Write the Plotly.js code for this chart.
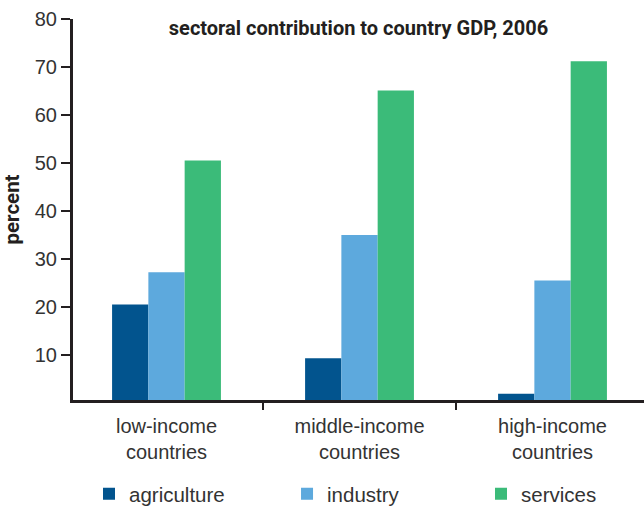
<!DOCTYPE html>
<html>
<head>
<meta charset="utf-8">
<script src="https://cdn.plot.ly/plotly-3.0.1.min.js"></script>
<style>html,body{margin:0;padding:0;background:#fff;}#chart{width:644px;height:506px;}</style>
</head>
<body>
<div id="chart"></div>
<script>
var categories = ["low-income<br>countries", "middle-income<br>countries", "high-income<br>countries"];
var seriesNames = ["agriculture", "industry", "services"];
var agriculture = [20.5, 9.3, 1.9];
var industry = [27.2, 35.0, 25.5];
var services = [50.5, 65.1, 71.2];
var yTicks = [10, 20, 30, 40, 50, 60, 70, 80];
var boundaryTicks = [0.5, 1.5];
var titleText = "sectoral contribution to country GDP, 2006";
var yTitle = "percent";

var colors = ["#02548E", "#5DA9DD", "#3BBB79"];
var values = [agriculture, industry, services];
var legendIds = ["legend", "legend2", "legend3"];
var traces = seriesNames.map(function (n, i) {
  return {
    type: "bar", name: n, x: categories, y: values[i],
    marker: {color: colors[i], line: {width: 0}},
    legend: legendIds[i],
    hoverinfo: "skip"
  };
});
// invisible trace carrying the boundary tick axis
traces.push({type: "scatter", x: [0], y: [1], xaxis: "x2", mode: "markers",
  marker: {opacity: 0}, showlegend: false, hoverinfo: "skip"});

var narrow = "Roboto, Liberation Sans, sans-serif";
var regular = "Liberation Sans, Arial, sans-serif";
function legendAt(x) {
  return {
    orientation: "h", xref: "container", yref: "container",
    x: x, xanchor: "left", y: 0.024, yanchor: "middle",
    font: {family: regular, size: 20.5, color: "#333"},
    itemwidth: 30, bgcolor: "rgba(0,0,0,0)"
  };
}
var xr = [-0.4845, 2.474];
var layout = {
  width: 644, height: 506,
  margin: {l: 73, r: 0, t: 19, b: 106, pad: 0},
  paper_bgcolor: "#fff", plot_bgcolor: "#fff",
  barmode: "group", bargap: 0.436, bargroupgap: 0,
  showlegend: true,
  legend: legendAt(0.1382),
  legend2: legendAt(0.4457),
  legend3: legendAt(0.7469),
  title: {
    text: "<b>" + titleText + "</b>",
    font: {family: narrow, size: 20, color: "#231f20"},
    x: 0.5, xref: "paper", xanchor: "center",
    y: 0.945, yref: "container", yanchor: "middle"
  },
  xaxis: {
    type: "category", range: xr, fixedrange: true,
    showline: true, linecolor: "#231f20", linewidth: 3,
    ticks: "", ticklabelstandoff: 6,
    tickfont: {family: regular, size: 20, color: "#333"},
    showgrid: false, zeroline: false
  },
  xaxis2: {
    overlaying: "x", side: "bottom", range: xr, fixedrange: true,
    tickvals: boundaryTicks, showticklabels: false,
    ticks: "outside", ticklen: 9, tickwidth: 1.5, tickcolor: "#231f20",
    showline: false, showgrid: false, zeroline: false
  },
  yaxis: {
    range: [0.6, 80], fixedrange: true,
    tickvals: yTicks, ticktext: yTicks.map(String),
    showline: true, linecolor: "#231f20", linewidth: 3,
    ticks: "outside", ticklen: 9, tickwidth: 1.5, tickcolor: "#231f20",
    tickfont: {family: regular, size: 20, color: "#333"},
    showgrid: false, zeroline: false,
    title: {text: "<b>" + yTitle + "</b>", font: {family: narrow, size: 20.5, color: "#231f20"}, standoff: 10}
  }
};

Plotly.newPlot("chart", traces, layout, {displayModeBar: false, staticPlot: true});
</script>
</body>
</html>
